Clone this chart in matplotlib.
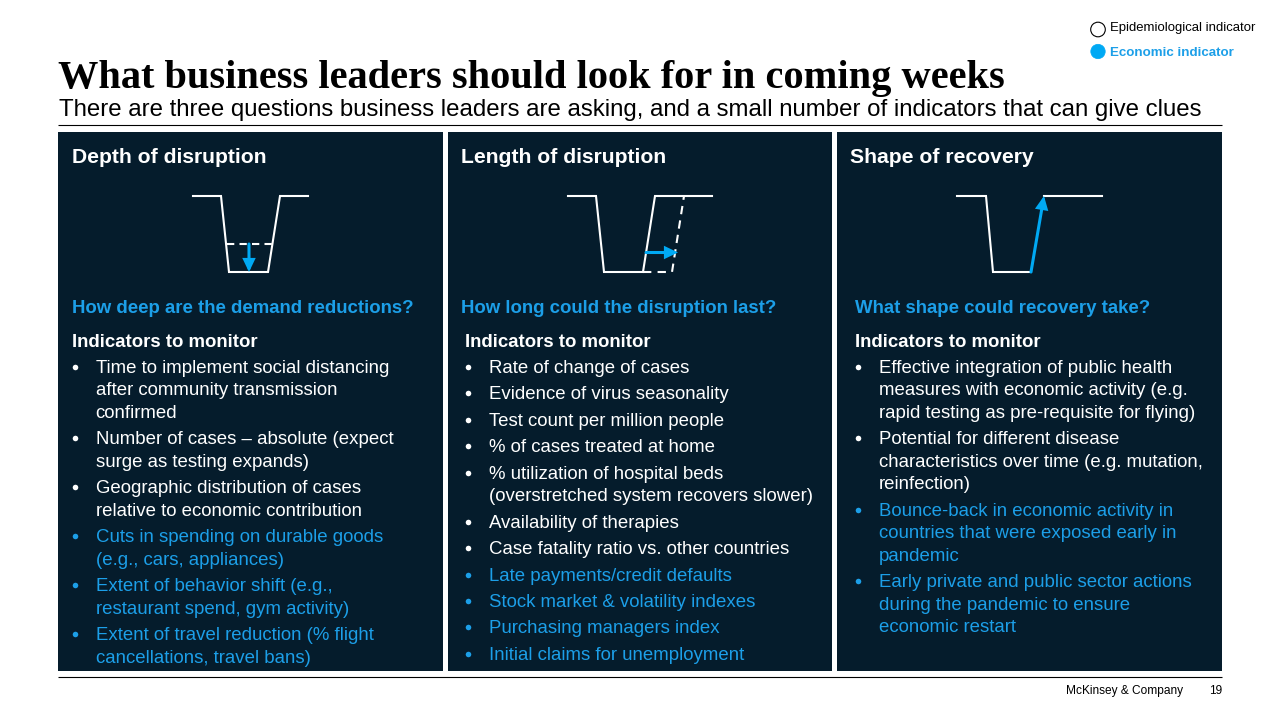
import matplotlib
matplotlib.use("Agg")
import matplotlib.pyplot as plt
from matplotlib.patches import Rectangle, Circle

NAVY = "#051c2c"
BLUE = "#00a9f4"
TEXT_BLUE = "#1c9fe8"

title = "What business leaders should look for in coming weeks"
subtitle = "There are three questions business leaders are asking, and a small number of indicators that can give clues"
legend_labels = ["Epidemiological indicator", "Economic indicator"]
headers = ["Depth of disruption", "Length of disruption", "Shape of recovery"]
questions = ["How deep are the demand reductions?", "How long could the disruption last?", "What shape could recovery take?"]

# each bullet is a list of wrapped lines, second list is the economic (blue) ones
col1_white = [["Time to implement social distancing", "after community transmission", "confirmed"],
              ["Number of cases – absolute (expect", "surge as testing expands)"],
              ["Geographic distribution of cases", "relative to economic contribution"]]
col1_blue = [["Cuts in spending on durable goods", "(e.g., cars, appliances)"],
             ["Extent of behavior shift (e.g.,", "restaurant spend, gym activity)"],
             ["Extent of travel reduction (% flight", "cancellations, travel bans)"]]
col2_white = [["Rate of change of cases"],
              ["Evidence of virus seasonality"],
              ["Test count per million people"],
              ["% of cases treated at home"],
              ["% utilization of hospital beds", "(overstretched system recovers slower)"],
              ["Availability of therapies"],
              ["Case fatality ratio vs. other countries"]]
col2_blue = [["Late payments/credit defaults"],
             ["Stock market & volatility indexes"],
             ["Purchasing managers index"],
             ["Initial claims for unemployment"]]
col3_white = [["Effective integration of public health", "measures with economic activity (e.g.", "rapid testing as pre-requisite for flying)"],
              ["Potential for different disease", "characteristics over time (e.g. mutation,", "reinfection)"]]
col3_blue = [["Bounce-back in economic activity in", "countries that were exposed early in", "pandemic"],
             ["Early private and public sector actions", "during the pandemic to ensure", "economic restart"]]

whites = [col1_white, col2_white, col3_white]
blues = [col1_blue, col2_blue, col3_blue]

fig = plt.figure(figsize=(12.8, 7.2), dpi=100)
ax = fig.add_axes([0, 0, 1, 1])
ax.set_xlim(0, 1280)
ax.set_ylim(720, 0)
ax.axis("off")
plt.rcParams["font.family"] = ["Liberation Sans"]

# x positions: panel left/right, header, question, indicators, bullet dot, bullet text, paragraph gap
panels = [(58, 443, 72, 72, 72, 75, 95.5, 3.7),
          (448, 832, 461, 461, 465, 468, 489, 3.85),
          (837, 1222, 850, 855, 855, 858, 879, 3.6)]
BODY = 13.45

for i, (x0, x1, xh, xq, xi, xd, xt, gap) in enumerate(panels):
    ax.add_patch(Rectangle((x0, 132), x1 - x0, 539, color=NAVY, lw=0))
    ax.text(xh, 163, headers[i], color="white", fontsize=15.2, fontweight="bold", va="baseline")
    ax.text(xq, 313, questions[i], color=TEXT_BLUE, fontsize=13.4, fontweight="bold", va="baseline")
    ax.text(xi, 347, "Indicators to monitor", color="white", fontsize=13.4, fontweight="bold", va="baseline")
    y = 372.8
    for items, col in ((whites[i], "white"), (blues[i], TEXT_BLUE)):
        for item in items:
            ax.plot([xd], [y - 6], "o", color=col, ms=4, mew=0)
            for line in item:
                ax.text(xt, y, line, color=col, fontsize=BODY, va="baseline")
                y += 22.6
            y += gap

ax.text(58, 88, title, color="black", fontsize=29.1, fontweight="bold", family="Liberation Serif", va="baseline")
ax.text(59, 116, subtitle, color="black", fontsize=17.26, va="baseline")
ax.plot([58, 1222], [124.5, 124.5], color="black", lw=0.8, solid_capstyle="butt")
ax.plot([58, 1222], [677, 677], color="black", lw=0.8, solid_capstyle="butt")

ax.add_patch(Circle((1098, 29.5), 7.3, fc="white", ec="black", lw=0.8))
ax.add_patch(Circle((1098, 51.5), 7.2, fc=BLUE, ec=BLUE, lw=0.5))
ax.text(1110, 31.5, legend_labels[0], color="black", fontsize=9.47, va="baseline")
ax.text(1110, 55.5, legend_labels[1], color=TEXT_BLUE, fontsize=9.6, fontweight="bold", va="baseline")

ax.text(1183, 694, "McKinsey & Company", color="black", fontsize=8.55, ha="right", va="baseline")
ax.text(1222, 694, "19", color="black", fontsize=8.55, ha="right", va="baseline")


def white_line(xs, ys, ls="-"):
    ax.plot(xs, ys, color="white", lw=1.5, ls=ls, solid_joinstyle="miter")


def arrow(start, end):
    ax.annotate("", xy=end, xytext=start,
                arrowprops=dict(arrowstyle="-|>,head_width=0.24,head_length=0.5", color=BLUE, lw=2.2,
                                shrinkA=0, shrinkB=0, mutation_scale=13, joinstyle="miter"))


# depth
white_line([193, 221, 229, 268, 280, 308], [196, 196, 272, 272, 196, 196])
white_line([227, 274], [243.5, 243.5], ls=(0, (3.5, 2.5)))
arrow((249, 244), (249, 272))
# length
white_line([568, 596, 604, 643, 655, 712], [196, 196, 272, 272, 196, 196])
white_line([643, 672, 684], [272, 272, 196], ls=(0, (4, 3)))
arrow((646, 252.5), (678, 252.5))
# shape
white_line([957, 986, 993, 1031], [196, 196, 272, 272])
white_line([1044, 1102], [196, 196])
arrow((1031, 272), (1044, 196))

fig.savefig("out.png", dpi=100)
